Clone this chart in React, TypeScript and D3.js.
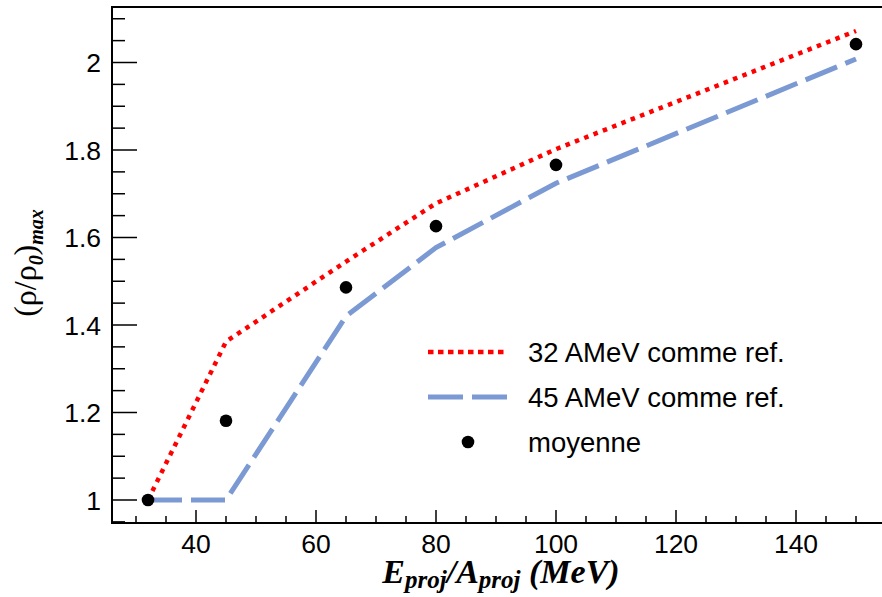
import React from "react";
import * as d3 from "d3";

const energies = [32, 45, 65, 80, 100, 150];
const ref32 = [1.0, 1.362, 1.545, 1.678, 1.802, 2.072];
const ref45 = [1.0, 1.0, 1.42, 1.577, 1.724, 2.008];
const moyenne = [1.0, 1.181, 1.486, 1.626, 1.766, 2.042];

const xMajorTicks = [40, 60, 80, 100, 120, 140];
const yMajorTicks = [1, 1.2, 1.4, 1.6, 1.8, 2];
const legendLabels = ["32 AMeV comme ref.", "45 AMeV comme ref.", "moyenne"];

const W = 882;
const H = 597;
const left = 112;
const right = 886;
const top = 7;
const bottom = 523;

export default function App() {
  const x = d3.scaleLinear().domain([26, 155]).range([left, right]);
  const y = d3.scaleLinear().domain([0.94743, 2.12686]).range([bottom, top]);

  const xMinor = d3.range(30, 156, 5).filter((v) => !xMajorTicks.includes(v));
  const yMinor = d3.range(0.95, 2.13, 0.05).filter(
    (v) => !yMajorTicks.some((t) => Math.abs(t - v) < 1e-6)
  );

  const line = d3
    .line<number>()
    .x((_, i) => x(energies[i]))
    .y((d) => y(d));

  const red = "#ff0000";
  const blue = "#7b99d3";
  const sans = "'Liberation Sans', Arial, sans-serif";
  const serif = "'Liberation Serif', 'Times New Roman', serif";

  const lgX1 = 428;
  const lgX2 = 508;
  const lgTextX = 528;
  const lgY = [352, 397, 442];

  return (
    <svg
      width={W}
      height={H}
      style={{ position: "absolute", left: 0, top: 0, background: "#fff" }}
    >
      <rect x={0} y={0} width={W} height={H} fill="#fff" />
      <clipPath id="plotclip">
        <rect x={left} y={top} width={right - left} height={bottom - top} />
      </clipPath>

      {/* data lines */}
      <g clipPath="url(#plotclip)">
        <path
          d={line(ref32) || ""}
          fill="none"
          stroke={red}
          strokeWidth={4.5}
          strokeDasharray="4.5 5.5"
        />
        <path
          d={line(ref45) || ""}
          fill="none"
          stroke={blue}
          strokeWidth={5}
          strokeDasharray="34 9"
        />
        {moyenne.map((v, i) => (
          <circle key={i} cx={x(energies[i])} cy={y(v)} r={6.3} fill="#000" />
        ))}
      </g>

      {/* frame */}
      <line x1={left} x2={right} y1={top} y2={top} stroke="#000" strokeWidth={2} />
      <line x1={left} x2={left} y1={top - 1} y2={bottom + 1} stroke="#000" strokeWidth={2} />
      <line x1={left - 1} x2={right} y1={bottom} y2={bottom} stroke="#000" strokeWidth={2} />

      {/* y ticks */}
      {yMajorTicks.map((t) => (
        <g key={"ym" + t}>
          <line x1={left} x2={left + 25} y1={y(t)} y2={y(t)} stroke="#000" strokeWidth={1.5} />
          <text
            x={101}
            y={y(t) + 9.5}
            textAnchor="end"
            fontFamily={sans}
            fontSize={26.5}
            fill="#000"
          >
            {String(+t.toFixed(1))}
          </text>
        </g>
      ))}
      {yMinor.map((t) => (
        <line key={"yn" + t} x1={left} x2={left + 13} y1={y(t)} y2={y(t)} stroke="#000" strokeWidth={1.5} />
      ))}

      {/* x ticks */}
      {xMajorTicks.map((t) => (
        <g key={"xm" + t}>
          <line x1={x(t)} x2={x(t)} y1={bottom} y2={bottom - 13} stroke="#000" strokeWidth={1.5} />
          <text
            x={x(t)}
            y={553}
            textAnchor="middle"
            fontFamily={sans}
            fontSize={26.5}
            fill="#000"
          >
            {t}
          </text>
        </g>
      ))}
      {xMinor.map((t) => (
        <line key={"xn" + t} x1={x(t)} x2={x(t)} y1={bottom} y2={bottom - 7} stroke="#000" strokeWidth={1.5} />
      ))}

      {/* x title */}
      <text
        x={(left + 882) / 2 + 4}
        y={583}
        textAnchor="middle"
        fontFamily={serif}
        fontWeight="bold"
        fontStyle="italic"
        fontSize={34}
        fill="#000"
      >
        <tspan>E</tspan>
        <tspan fontSize={25} dy={5}>proj</tspan>
        <tspan dy={-5}>/A</tspan>
        <tspan fontSize={25} dy={5}>proj</tspan>
        <tspan dy={-5}>{"\u00a0(MeV)"}</tspan>
      </text>

      {/* y title */}
      <text
        transform={`translate(36,${(top + bottom) / 2 - 2}) rotate(-90)`}
        textAnchor="middle"
        fontFamily={serif}
        fontSize={32}
        fill="#000"
      >
        <tspan>(ρ/ρ</tspan>
        <tspan fontSize={20} fontStyle="italic" fontWeight="bold" dy={7}>0</tspan>
        <tspan dy={-7}>)</tspan>
        <tspan fontSize={20} fontStyle="italic" fontWeight="bold" dy={7}>max</tspan>
      </text>

      {/* legend */}
      <line x1={lgX1} x2={lgX2} y1={lgY[0]} y2={lgY[0]} stroke={red} strokeWidth={4.5} strokeDasharray="5.5 4.5" />
      <line x1={lgX1} x2={lgX2} y1={lgY[1]} y2={lgY[1]} stroke={blue} strokeWidth={5} strokeDasharray="35 9" />
      <circle cx={(lgX1 + lgX2) / 2} cy={lgY[2]} r={6.3} fill="#000" />
      {legendLabels.map((l, i) => (
        <text
          key={l}
          x={lgTextX}
          y={lgY[i] + 9.5}
          fontFamily={sans}
          fontSize={27.5}
          fill="#000"
        >
          {l}
        </text>
      ))}
    </svg>
  );
}
